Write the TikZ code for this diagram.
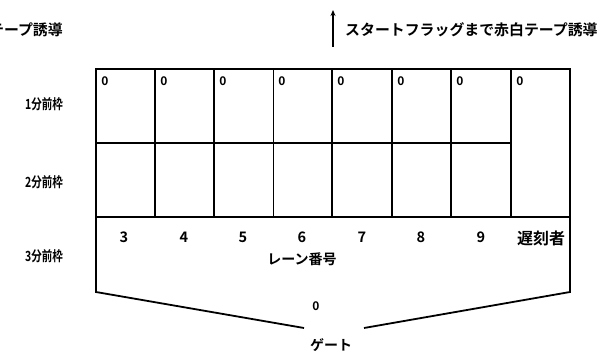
\documentclass[tikz,border=0pt]{standalone}
\usepackage{fontspec}
\newfontfamily\jp{Noto Sans CJK JP}[BoldFont={Noto Sans CJK JP Bold}]
\newfontfamily\jpnarrow{Noto Sans CJK JP Bold}[FakeStretch=0.75]
\usetikzlibrary{arrows.meta}
\begin{document}
\begin{tikzpicture}[x=1pt,y=-1pt,
  lbl/.style={font=\jp\bfseries\fontsize{14}{14}\selectfont, inner sep=0pt},
  toplbl/.style={font=\jp\bfseries\fontsize{14.9}{15}\selectfont, inner sep=0pt},
  rowlbl/.style={font=\jpnarrow\fontsize{14}{14}\selectfont, inner sep=0pt},
  num/.style={font=\jp\bfseries\fontsize{14.5}{15}\selectfont, inner sep=0pt},
  zero/.style={font=\jp\bfseries\fontsize{12}{12}\selectfont, inner sep=0pt},
  thick line/.style={line width=1.8pt},
  thin line/.style={line width=1pt}]
\useasboundingbox (0,0) rectangle (601,355);
\clip (0,0) rectangle (601,355);
% grid outline
\coordinate (TL) at (96,69);
\coordinate (TR) at (570,69);
\coordinate (BL) at (96,292);
\coordinate (BR) at (570,292);
\coordinate (GL) at (304,328);
\coordinate (GR) at (364,328);
\draw[thick line] (GL) -- (BL) -- (TL) -- (TR) -- (BR) -- (GR);
% horizontal lines
\draw[thick line] (96,143) -- (511,143);
\draw[thick line] (96,217) -- (570,217);
% vertical lines
\foreach \x in {155,214,332,392,451,511}
  \draw[thick line] (\x,69) -- (\x,217);
\draw[thin line] (273,69) -- (273,217);
% zeros
\foreach \x/\n in {105/z1,164/z2,223/z3,282/z4,341/z5,401/z6,460/z7,520/z8}
  \node[zero] (\n) at (\x,81) {0};
% lane numbers
\foreach \x/\t/\n in {124/3/n3,184/4/n4,243/5/n5,302/6/n6,362/7/n7,421/8/n8,481/9/n9}
  \node[num] (\n) at (\x,237) {\t};
\node[lbl, font=\jp\bfseries\fontsize{16}{16}\selectfont] (late) at (541,238) {遅刻者};
\node[lbl] (lane) at (302,259) {レーン番号};
\node[zero] (z0) at (316,306) {0};
\node[lbl] (gate) at (331,345) {ゲート};
% left labels
\node[rowlbl] (r1) at (44,104) {1分前枠};
\node[rowlbl] (r2) at (44,182) {2分前枠};
\node[rowlbl] (r3) at (44,256) {3分前枠};
% top labels
\node[toplbl, anchor=east] (tl) at (63,30) {赤白テープ誘導};
\node[toplbl, anchor=west] (tr) at (345,30) {スタートフラッグまで赤白テープ誘導};
\coordinate (a1) at (333,47);
\coordinate (a2) at (333,10);
\draw[line width=1.8pt, -{Stealth[length=6pt,width=5pt]}] (a1) -- (a2);
\end{tikzpicture}
\end{document}
